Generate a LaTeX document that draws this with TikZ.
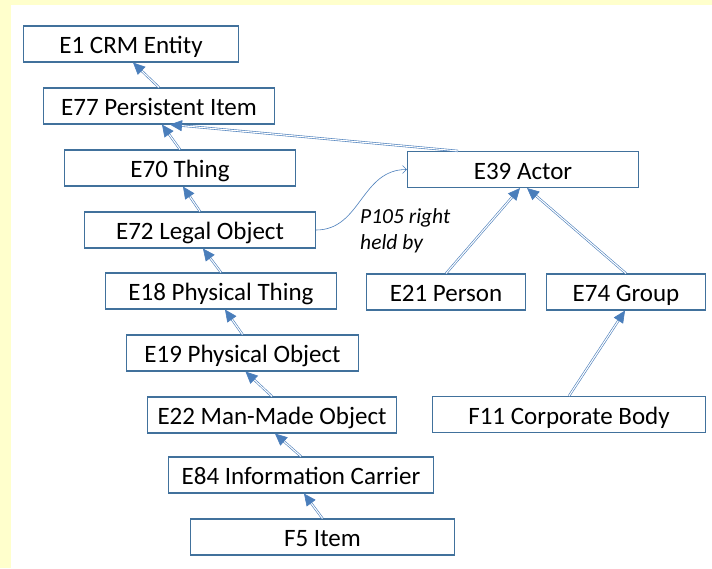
\documentclass[tikz,border=0pt]{standalone}
\usepackage{fontspec}
\setmainfont{Carlito}
\usetikzlibrary{arrows.meta,calc}
\definecolor{bordblue}{HTML}{41719C}
\definecolor{arrblue}{HTML}{4A7EBB}
\definecolor{bgyellow}{HTML}{FFFFCC}
\tikzset{
  cls/.style={draw=bordblue, line width=1.1pt, fill=white, minimum height=36pt, inner sep=0pt, text height=19pt, text depth=0pt, font=\fontsize{25}{29}\selectfont},
  isaline/.style={draw=arrblue, line width=0.6pt, double=white, double distance=1.1pt, shorten >=11pt},
  isatip/.style={draw=arrblue, fill=arrblue, line width=0.6pt, -{Triangle[length=12pt,width=11pt]}},
  propline/.style={draw=arrblue, line width=0.6pt, -{Straight Barb[length=4pt,width=8pt]}},
  proplabel/.style={font=\fontsize{21.5}{26}\selectfont\itshape, align=left, inner sep=0pt, anchor=north west}
}
\newcommand{\isarrow}[2]{%
  \draw[isaline] (#1) -- (#2);
  \draw[isatip] ($(#2)!12pt!(#1)$) -- (#2);}
\begin{document}
\begin{tikzpicture}[x=1pt,y=-1pt]
\useasboundingbox (0,0) rectangle (712,568);
\fill[bgyellow] (0,0) rectangle (712,568);
\fill[white] (11,5) rectangle (712,568);
% class nodes
\node[cls, minimum width=215pt] (E1)  at (131,44)    {E1 CRM Entity};
\node[cls, minimum width=231pt] (E77) at (159,106)   {E77 Persistent Item};
\node[cls, minimum width=231pt] (E70) at (180,168)   {E70 Thing};
\node[cls, minimum width=231pt] (E72) at (200,230)   {E72 Legal Object};
\node[cls, minimum width=231pt] (E18) at (221,291)   {E18 Physical Thing};
\node[cls, minimum width=232pt] (E19) at (242.5,353) {E19 Physical Object};
\node[cls, minimum width=249pt] (E22) at (272,415)   {E22 Man-Made Object};
\node[cls, minimum width=265pt] (E84) at (301,475)   {E84 Information Carrier};
\node[cls, minimum width=264pt] (F5)  at (322.5,537) {F5 Item};
\node[cls, minimum width=231pt] (E39) at (523,169.5) {E39 Actor};
\node[cls, minimum width=159pt] (E21) at (446,292)   {E21 Person};
\node[cls, minimum width=159pt] (E74) at (626,292)   {E74 Group};
\node[cls, minimum width=273pt] (F11) at (569,414.5) {F11 Corporate Body};
% end points of the is-a connectors
\coordinate (s1) at ([xshift=2pt]E1.south);
\coordinate (s77) at ([xshift=3pt]E77.south);
\coordinate (s77b) at ([xshift=11pt]E77.south);
\coordinate (s70) at ([xshift=3pt]E70.south);
\coordinate (s72) at ([xshift=3pt]E72.south);
\coordinate (s18) at ([xshift=4pt]E18.south);
\coordinate (s19) at ([xshift=3pt]E19.south);
\coordinate (s22) at ([xshift=3pt]E22.south);
\coordinate (s84) at ([xshift=3pt]E84.south);
\coordinate (s39a) at ([xshift=-3pt]E39.south);
\coordinate (s39b) at ([xshift=4pt]E39.south);
\coordinate (s74) at ([xshift=-1pt]E74.south);
\coordinate (n39) at ([xshift=-65pt]E39.north);
% is-a connectors
\isarrow{E77.north}{s1}
\isarrow{E70.north}{s77}
\isarrow{E72.north}{s70}
\isarrow{E18.north}{s72}
\isarrow{E19.north}{s18}
\isarrow{E22.north}{s19}
\isarrow{E84.north}{s22}
\isarrow{F5.north}{s84}
\isarrow{n39}{s77b}
\isarrow{E21.north}{s39a}
\isarrow{E74.north}{s39b}
\isarrow{F11.north}{s74}
% property
\draw[propline] (E72.east) .. controls +(45,0) and +(-46,0) .. (E39.west);
\node[proplabel] (P105) at (360,208) {P105 right\\held by};
\end{tikzpicture}
\end{document}
